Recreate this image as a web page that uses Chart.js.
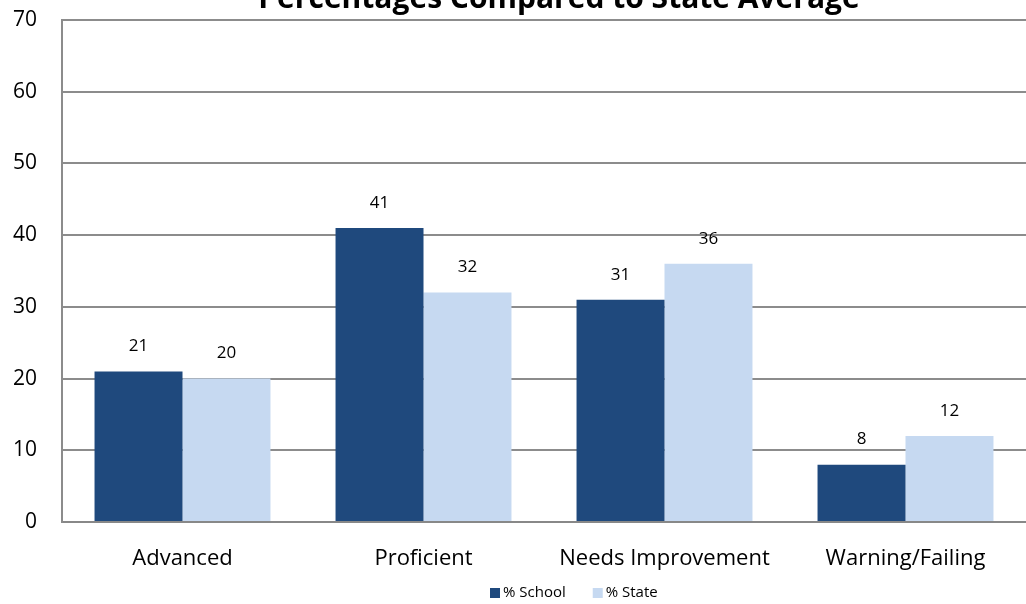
<!DOCTYPE html>
<html>
<head>
<meta charset="utf-8">
<script src="https://cdn.jsdelivr.net/npm/chart.js@4/dist/chart.umd.min.js"></script>
<style>
  html, body { margin: 0; padding: 0; background: #fff; }
  #wrap { width: 1026px; height: 604px; }
</style>
</head>
<body>
<div id="wrap"><canvas id="grafico"></canvas></div>
<script>
const titulo = "Percentages Compared to State Average";
const categorias = ["Advanced", "Proficient", "Needs Improvement", "Warning/Failing"];
const escola = [21, 41, 31, 8];
const estado = [20, 32, 36, 12];
const yTicks = [0, 10, 20, 30, 40, 50, 60, 70];

const FONTE = "'Open Sans', sans-serif";

// titulo cortado no topo + numeros sobre as barras + legenda
const extras = {
  id: 'extras',
  afterDatasetsDraw(chart) {
    const ctx = chart.ctx;
    ctx.save();
    ctx.fillStyle = '#000';
    ctx.textAlign = 'center';
    ctx.textBaseline = 'alphabetic';
    ctx.font = "bold 30px " + FONTE;
    ctx.fillText(titulo, 559, 8);

    ctx.font = "17px " + FONTE;
    ctx.textBaseline = 'middle';
    chart.data.datasets.forEach((ds, i) => {
      chart.getDatasetMeta(i).data.forEach((bar, j) => {
        ctx.fillText(ds.data[j], bar.x, bar.y - 25);
      });
    });

    // legenda
    ctx.font = "15px " + FONTE;
    ctx.textAlign = 'left';
    let x = 490;
    const y = 593;
    chart.data.datasets.forEach(ds => {
      ctx.fillStyle = ds.backgroundColor;
      ctx.fillRect(x, y - 5, 10, 10);
      ctx.fillStyle = '#000';
      ctx.fillText(ds.label, x + 13, y);
      x += 13 + ctx.measureText(ds.label).width + 27;
    });
    ctx.restore();
  }
};

new Chart(document.getElementById('grafico'), {
  type: 'bar',
  data: {
    labels: categorias,
    datasets: [
      { label: '% School', data: escola, backgroundColor: '#1F497D', borderWidth: 0 },
      { label: '% State', data: estado, backgroundColor: '#C6D9F1', borderWidth: 0 }
    ]
  },
  options: {
    responsive: true,
    maintainAspectRatio: false,
    animation: false,
    devicePixelRatio: 1,
    layout: { padding: { top: 20, right: 0, bottom: 0, left: 0 } },
    datasets: { bar: { categoryPercentage: 0.73, barPercentage: 1.0 } },
    plugins: {
      legend: { display: false },
      title: { display: false },
      tooltip: { enabled: false }
    },
    scales: {
      x: {
        grid: { display: false, drawTicks: false },
        border: { color: '#888', width: 2 },
        ticks: { font: { family: FONTE, size: 22 }, color: '#000', padding: 24, maxRotation: 0 },
        afterFit(s) { s.height = 82; s.paddingLeft = 0; s.paddingRight = 0; }
      },
      y: {
        min: 0, max: 70,
        afterBuildTicks(s) { s.ticks = yTicks.map(v => ({ value: v })); },
        grid: { color: '#8c8c8c', lineWidth: 2, drawTicks: false },
        border: { color: '#8c8c8c', width: 2 },
        ticks: { font: { family: FONTE, size: 21 }, color: '#000', padding: 25 },
        afterFit(s) { s.width = 62; s.paddingTop = 0; s.paddingBottom = 0; }
      }
    }
  },
  plugins: [extras]
});
</script>
</body>
</html>
